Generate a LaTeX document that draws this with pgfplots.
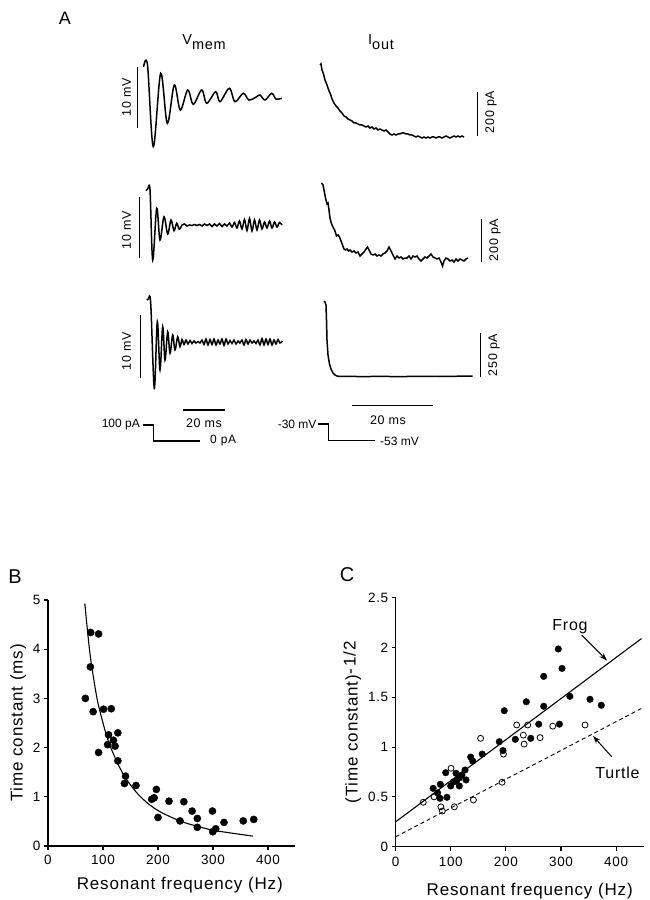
\documentclass[border=0pt]{standalone}
\usepackage{fontspec}
\setmainfont{Liberation Sans}
\newfontfamily\lsf[LetterSpace=5]{Liberation Sans}
\usepackage{pgfplots}
\pgfplotsset{compat=1.18}
\usetikzlibrary{arrows.meta}
\newcommand{\fs}[1]{\fontsize{#1bp}{#1bp}\selectfont}
\begin{document}
\begin{tikzpicture}[x=1bp,y=1bp]
\path[use as bounding box] (0,0) rectangle (650,900);
\pgfplotsset{
  panel/.style={scale only axis, axis lines=left, axis line style={-, line width=1.1bp},
   tick style={line width=1.1bp, black}, tick align=outside, major tick length=4bp,
   /pgf/number format/assume math mode=true,
   tick label style={font=\lsf\fs{13.5}},
   label style={font=\lsf\fs{17}},
   clip=false, xmin=0, xmax=450, xtick={0,100,200,300,400}},
}
% ---------------- Panel B ----------------
\begin{axis}[panel, at={(48bp,54bp)}, anchor=south west, width=247.5bp, height=246bp,
  ymin=0, ymax=5, ytick={0,1,2,3,4,5},
  xticklabel style={yshift=-2bp},
  xlabel style={xshift=8bp, yshift=-5bp},
  xlabel={Resonant frequency (Hz)}, ylabel={Time constant (ms)}]
\addplot[only marks, mark=*, mark size=3.6bp, black] coordinates {
(77.6,4.34) (92,4.31) (77,3.64) (68,3.0) (82,2.73) (101,2.78) (115,2.79)
(110,2.26) (127,2.30) (108.5,2.06) (119,2.15) (122,2.03) (92,1.90) (127,1.73)
(141,1.42) (139,1.27) (160,1.23) (197,1.15) (193,0.98) (188.5,0.95) (220,0.91)
(247,0.90) (262,0.71) (200,0.58) (240,0.51) (271.5,0.56) (271.5,0.38) (299,0.71)
(320,0.48) (299.5,0.29) (305,0.35) (355,0.51) (374,0.54)};
\addplot[smooth, line width=1.1bp] coordinates {
(67,4.93) (72,4.35) (77,3.85) (83,3.4) (90,2.95) (100,2.5) (110,2.12) (125,1.72)
(140,1.4) (160,1.1) (180,0.88) (200,0.72) (225,0.58) (250,0.47) (275,0.39)
(300,0.32) (335,0.26) (373,0.2)};
\end{axis}
% ---------------- Panel C ----------------
\begin{axis}[panel, at={(395.7bp,53.3bp)}, anchor=south west, width=248bp, height=249bp,
  ymin=0, ymax=2.5, ytick={0,0.5,1,1.5,2,2.5},
  xticklabel style={yshift=-3bp},
  xlabel style={xshift=10bp, yshift=-10bp},
  xlabel={Resonant frequency (Hz)}, ylabel={(Time constant)\raisebox{2bp}{-\,1/2}}]
\addplot[line width=1.1bp] coordinates {(0,0.25) (446,2.09)};
\addplot[line width=0.9bp, dash pattern=on 4bp off 3bp] coordinates {(0,0.10) (450,1.40)};
\addplot[only marks, mark=*, mark size=3.3bp, black] coordinates {
(295,1.985) (301.8,1.79) (268.5,1.71) (316,1.51) (352.6,1.48) (373,1.42)
(237,1.455) (268.5,1.41) (197,1.365) (259.5,1.23) (297,1.23) (188,1.054)
(217,1.078) (245,1.088) (194.7,0.965) (136,0.90) (157,0.93) (139.7,0.86)
(125.8,0.77) (109.4,0.737) (90.7,0.743) (115.4,0.69) (104.5,0.65) (99.8,0.61)
(115.4,0.61) (127.6,0.67) (81,0.626) (68,0.586) (76,0.54) (80.4,0.486) (93,0.496)
(110,0.66) (120,0.72)};
\addplot[only marks, mark=o, mark size=3bp, line width=0.8bp, black] coordinates {
(219.5,1.222) (239.5,1.222) (285,1.21) (343.5,1.222) (231.6,1.12) (262,1.095)
(233,1.03) (154,1.088) (195.5,0.93) (100.4,0.787) (50,0.446) (69.5,0.50)
(82,0.40) (84.6,0.358) (106.4,0.40) (141,0.469) (193,0.647)};
\end{axis}
% ---------------- Panel A and annotations (pixel frame) ----------------
\begin{axis}[at={(0,0)}, anchor=south west, scale only axis, width=650bp, height=900bp,
  xmin=0, xmax=650, ymin=0, ymax=900, y dir=reverse, hide axis, clip=false]
% Vmem traces
\addplot[smooth, tension=0.55, line width=1.5bp] coordinates {
(143.5,67) (147.5,65) (153.3,146.7) (160.7,73.3) (167.3,123.3) (174.3,85) (180.3,110)
(187.7,90) (193.3,104.3) (201.7,90) (206.7,103.3) (215.7,91.7) (220,101.7) (229.3,88.3)
(235,101.7) (243.3,93.3) (249,100) (256.7,96.7) (260,95) (265,100) (271.7,93.3)
(276,99) (281.7,98.3)};
\addplot[smooth, tension=0.55, line width=1.5bp] coordinates {
(146,190.7) (147.7,189) (150,190) (152.7,260) (156.7,208.3) (160,240) (164,216.7)
(167.7,234) (171,220) (174,230.7) (176.7,223.3) (179.3,229.3)
(182,225) (184.5,224) (187,226) (189.5,225) (192,225.5) (194.5,224.5) (197,225.5)
(199.5,224.5) (202,226) (204.5,224) (207,225.5) (209.5,224) (212,226.5) (214.5,224)
(217,226) (219.5,223.5) (222,226.5) (224.5,224) (227,226) (229.5,223) (232,227)
(234.5,222.5) (237,228) (239.5,221) (242,229) (244.5,219.5) (247,230.5) (249.5,218.5)
(252,231) (254.5,220) (257,230) (259.5,220) (262,229) (264.5,222) (267,228)
(269.5,221) (272,228) (274.5,222) (277,227) (279.5,222.5) (282,225)};
\addplot[smooth, tension=0.55, line width=1.5bp] coordinates {
(146.7,300) (148.3,299) (150.7,303) (154.3,388.3) (157.3,321.7) (160,370) (162.7,326.7)
(165,360) (167.7,331.7) (170,353.3) (172.7,335) (175,350) (177.7,336.7) (180,346.7)
(182,339.5) (184,344.5) (186,340) (188,344) (190,340.5) (192,343.5) (194,341) (196,343)
(198,341.5) (200,343) (202,340) (204,344.5) (206,339) (208,345) (210,339.5) (212,344.5)
(214,339) (216,345) (218,340) (220,344) (222,339) (224,345.5) (226,339) (228,344)
(230,340.5) (232,343.5) (234,340) (236,344) (238,341) (240,343) (242,340) (244,345)
(246,339.5) (248,344) (250,340) (252,343) (254,341) (256,343.5) (258,340) (260,345)
(262,338.5) (264,345) (266,339) (268,344.5) (270,339) (272,345) (274,340) (276,344)
(278,339.5) (280,343) (282.5,341)};
% Iout traces
\addplot[line width=1.5bp] coordinates {
(320,65) (321,64) (322,70) (323.5,74) (325,80) (327,85) (329,91) (330.5,94) (332,99)
(334,103) (336,106) (338,108) (340,111) (342,113) (344,116) (346,117) (348,119) (350,120)
(352,121) (354,123) (356,123) (358,124) (360,125) (362,125) (364,126) (366,127) (368,126)
(370,128) (372,127) (374,129) (376,128) (378,130) (380,129) (382,130) (384,131) (386,130)
(388,132) (390,134) (392,135) (394,134) (396,135) (398,134) (400,134) (402,133) (404,133)
(406,134) (408,134) (410,135) (412,135) (414,136) (416,137) (418,136) (420,137) (422,138)
(424,137) (426,138) (428,137) (430,138) (432,137) (434,137) (436,138) (438,137) (440,137)
(442,138) (444,137) (446,136) (448,137) (450,138) (452,137) (454,136) (456,137) (458,136)
(460,137) (462,136) (464,137)};
\addplot[line width=1.5bp] coordinates {
(321.5,183) (323,185) (324,190) (325.5,198) (327,204) (328,203) (329,210) (330,218)
(331,222) (332,225) (333.5,228) (335,231) (336.5,236) (338,235) (339.5,237) (341,241)
(342.5,245) (344,249) (345.5,250) (347,249) (348.5,251) (350,250) (352,252) (354,251)
(356,253) (358,252) (360,256) (362,254) (364,252) (366,249) (367.5,247) (369,250)
(371,254) (373,255) (375,254) (377,256) (379,255) (381,256) (383,254) (385,253)
(387,251) (389,247) (391,251) (393,255) (395,259) (397,256) (399,258) (401,257)
(403,259) (405,258) (407,258) (409,256) (411,259) (413,256) (415,257) (417,256)
(419,259) (421,261) (423,259) (425,257) (427,258) (429,256) (431,254) (433,257)
(435,258) (437,259) (439,258) (441,262) (442.5,266) (444,261) (446,258) (448,259)
(450,261) (452,260) (454,262) (456,259) (458,261) (460,259) (462,260) (464,261)
(466,259) (468,258)};
\addplot[line width=1.5bp] coordinates {
(324,301) (325,302) (326,305) (326.5,320) (327,340) (328,355) (329.5,364) (331,369)
(333,373) (335,375) (337,376) (340,376.5) (350,376.3) (360,376.6) (380,376.4)
(400,376.6) (420,376.3) (440,376.5) (460,376.2) (472.7,376)};
% scale bars
\draw[line width=1.3bp] (137.7,67) -- (137.7,128);
\draw[line width=1.3bp] (139.3,196.7) -- (139.3,258.3);
\draw[line width=1.3bp] (140.7,315) -- (140.7,378.3);
\draw[line width=1.3bp] (477.7,91.7) -- (477.7,136);
\draw[line width=1.3bp] (481.7,219.3) -- (481.7,261.7);
\draw[line width=1.3bp] (480.7,333.3) -- (480.7,376.7);
\draw[line width=1.3bp] (182.7,410) -- (225,410);
\draw[line width=1.3bp] (351.7,405.7) -- (433.3,405.7);
\node[rotate=90, font=\lsf\fs{12.5}] at (126.5,97) {10 mV};
\node[rotate=90, font=\lsf\fs{12.5}] at (126.5,230) {10 mV};
\node[rotate=90, font=\lsf\fs{12.5}] at (126.5,351) {10 mV};
\node[rotate=90, font=\lsf\fs{12.5}] at (491,112) {200 pA};
\node[rotate=90, font=\lsf\fs{12.5}] at (495,240) {200 pA};
\node[rotate=90, font=\lsf\fs{12.5}] at (494,355) {250 pA};
\node[font=\lsf\fs{12.5}] at (204,423) {20 ms};
\node[font=\lsf\fs{12.5}] at (388,420) {20 ms};
% protocols
\draw[line width=1.1bp] (143.3,425) -- (153.3,425) -- (153.3,441) -- (200,441);
\draw[line width=1.1bp] (318.3,424) -- (328.3,424) -- (328.3,440.7) -- (375,440.7);
\node[anchor=east, font=\fs{12}, inner sep=0pt] at (140,425) {100 pA};
\node[anchor=west, font=\lsf\fs{12}, inner sep=0pt] at (210,441) {0 pA};
\node[anchor=east, font=\fs{12}, inner sep=0pt] at (316.7,424) {-30 mV};
\node[anchor=west, font=\fs{12}, inner sep=0pt] at (380,441) {-53 mV};
% titles
\node[font=\lsf\fs{14.5}] at (204,42) {V\raisebox{-4.5bp}{mem}};
\node[font=\lsf\fs{14.5}] at (381,42) {I\raisebox{-4.5bp}{out}};
\node[font=\fs{18}] at (65,18) {A};
\node[font=\fs{20}] at (15,577) {B};
\node[font=\fs{20}] at (347,575) {C};
% C annotations
\node[font=\lsf\fs{16}] at (570,627) {Frog};
\node[font=\lsf\fs{16}] at (617.5,772.5) {Turtle};
\draw[-{Stealth[length=8bp,width=5.5bp]}, line width=1bp] (581.7,635) -- (607,660.5);
\draw[-{Stealth[length=8bp,width=5.5bp]}, line width=1bp] (611.7,756.7) -- (593,736);
\end{axis}
\end{tikzpicture}
\end{document}
